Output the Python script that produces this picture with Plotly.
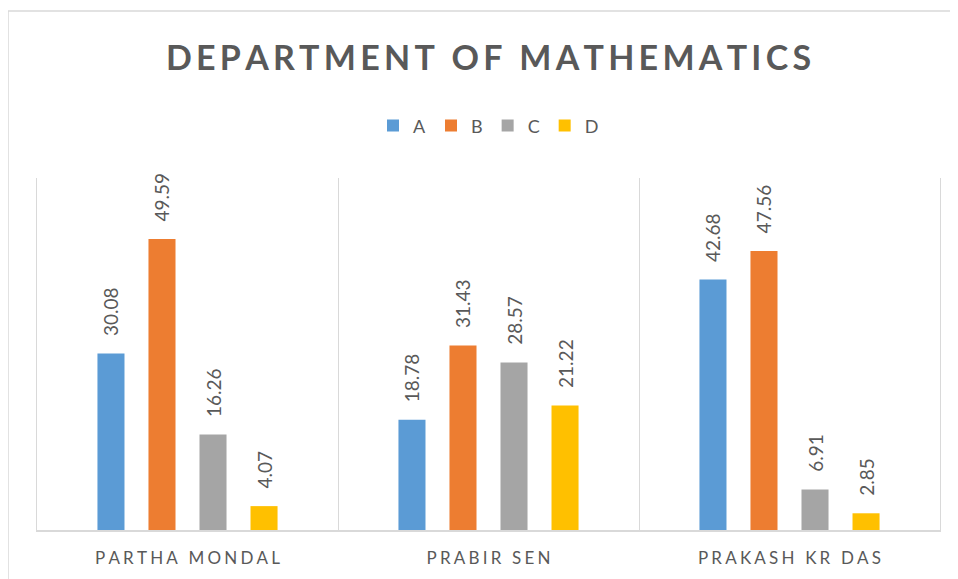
import plotly.graph_objects as go

# 數學系成績分布(各老師 A/B/C/D 百分比)
teachers = ["PARTHA MONDAL", "PRABIR SEN", "PRAKASH KR DAS"]
grade_a = [30.08, 18.78, 42.68]
grade_b = [49.59, 31.43, 47.56]
grade_c = [16.26, 28.57, 6.91]
grade_d = [4.07, 21.22, 2.85]

series = [
    ("A", grade_a, "#5B9BD5"),
    ("B", grade_b, "#ED7D31"),
    ("C", grade_c, "#A5A5A5"),
    ("D", grade_d, "#FFC000"),
]

FONT = "Lato"
GRAY = "#595959"
W, H = 950, 571  # 頁面本身有 8px 邊距


def spaced(s, sep="\u2009"):
    # 模仿 Excel 的字距
    return sep.join(s)


fig = go.Figure()
for name, vals, color in series:
    fig.add_trace(go.Bar(
        x=teachers, y=vals, name=name,
        marker=dict(color=color, line=dict(width=0)),
        text=[f"\u00a0\u00a0\u00a0{v:.2f}" for v in vals],
        textposition="outside", textangle=-90, constraintext="none",
        textfont=dict(family=FONT, size=19, color=GRAY),
        cliponaxis=False,
    ))

fig.update_layout(
    width=W, height=H,
    margin=dict(l=29, r=18, t=170, b=49),
    paper_bgcolor="white", plot_bgcolor="white",
    barmode="group", bargap=0.322, bargroupgap=0.47,
    title=dict(
        text=f"<b>{spaced('DEPARTMENT OF MATHEMATICS')}</b>",
        x=0.5, xref="paper", y=1 - 50 / H, yanchor="middle",
        font=dict(family=FONT, size=34, color=GRAY),
    ),
    legend=dict(
        orientation="h", x=0.5, xanchor="center", y=1.148, yanchor="middle",
        font=dict(family=FONT, size=18, color=GRAY),
        traceorder="normal",
    ),
    showlegend=True,
    shapes=[dict(
        type="rect", xref="paper", yref="paper",
        x0=-29 / 903, x1=1.1, y0=-0.2, y1=1 + 167 / 352,
        line=dict(color="#D9D9D9", width=1.5), layer="below",
    )],
)

fig.update_xaxes(
    type="category", tickson="boundaries", ticks="",
    showgrid=True, gridcolor="#D9D9D9", gridwidth=1.3,
    showline=True, linecolor="#D9D9D9", linewidth=2,
    tickvals=teachers, ticktext=[spaced(t, "\u2009\u200a") for t in teachers],
    tickfont=dict(family=FONT, size=17, color=GRAY),
    ticklabelstandoff=12,
)
fig.update_yaxes(
    range=[0, 60], showgrid=False, zeroline=False, showticklabels=False,
    ticks="", showline=True, mirror=True, linecolor="#D9D9D9", linewidth=1.3,
)

fig.write_html("out.html")
